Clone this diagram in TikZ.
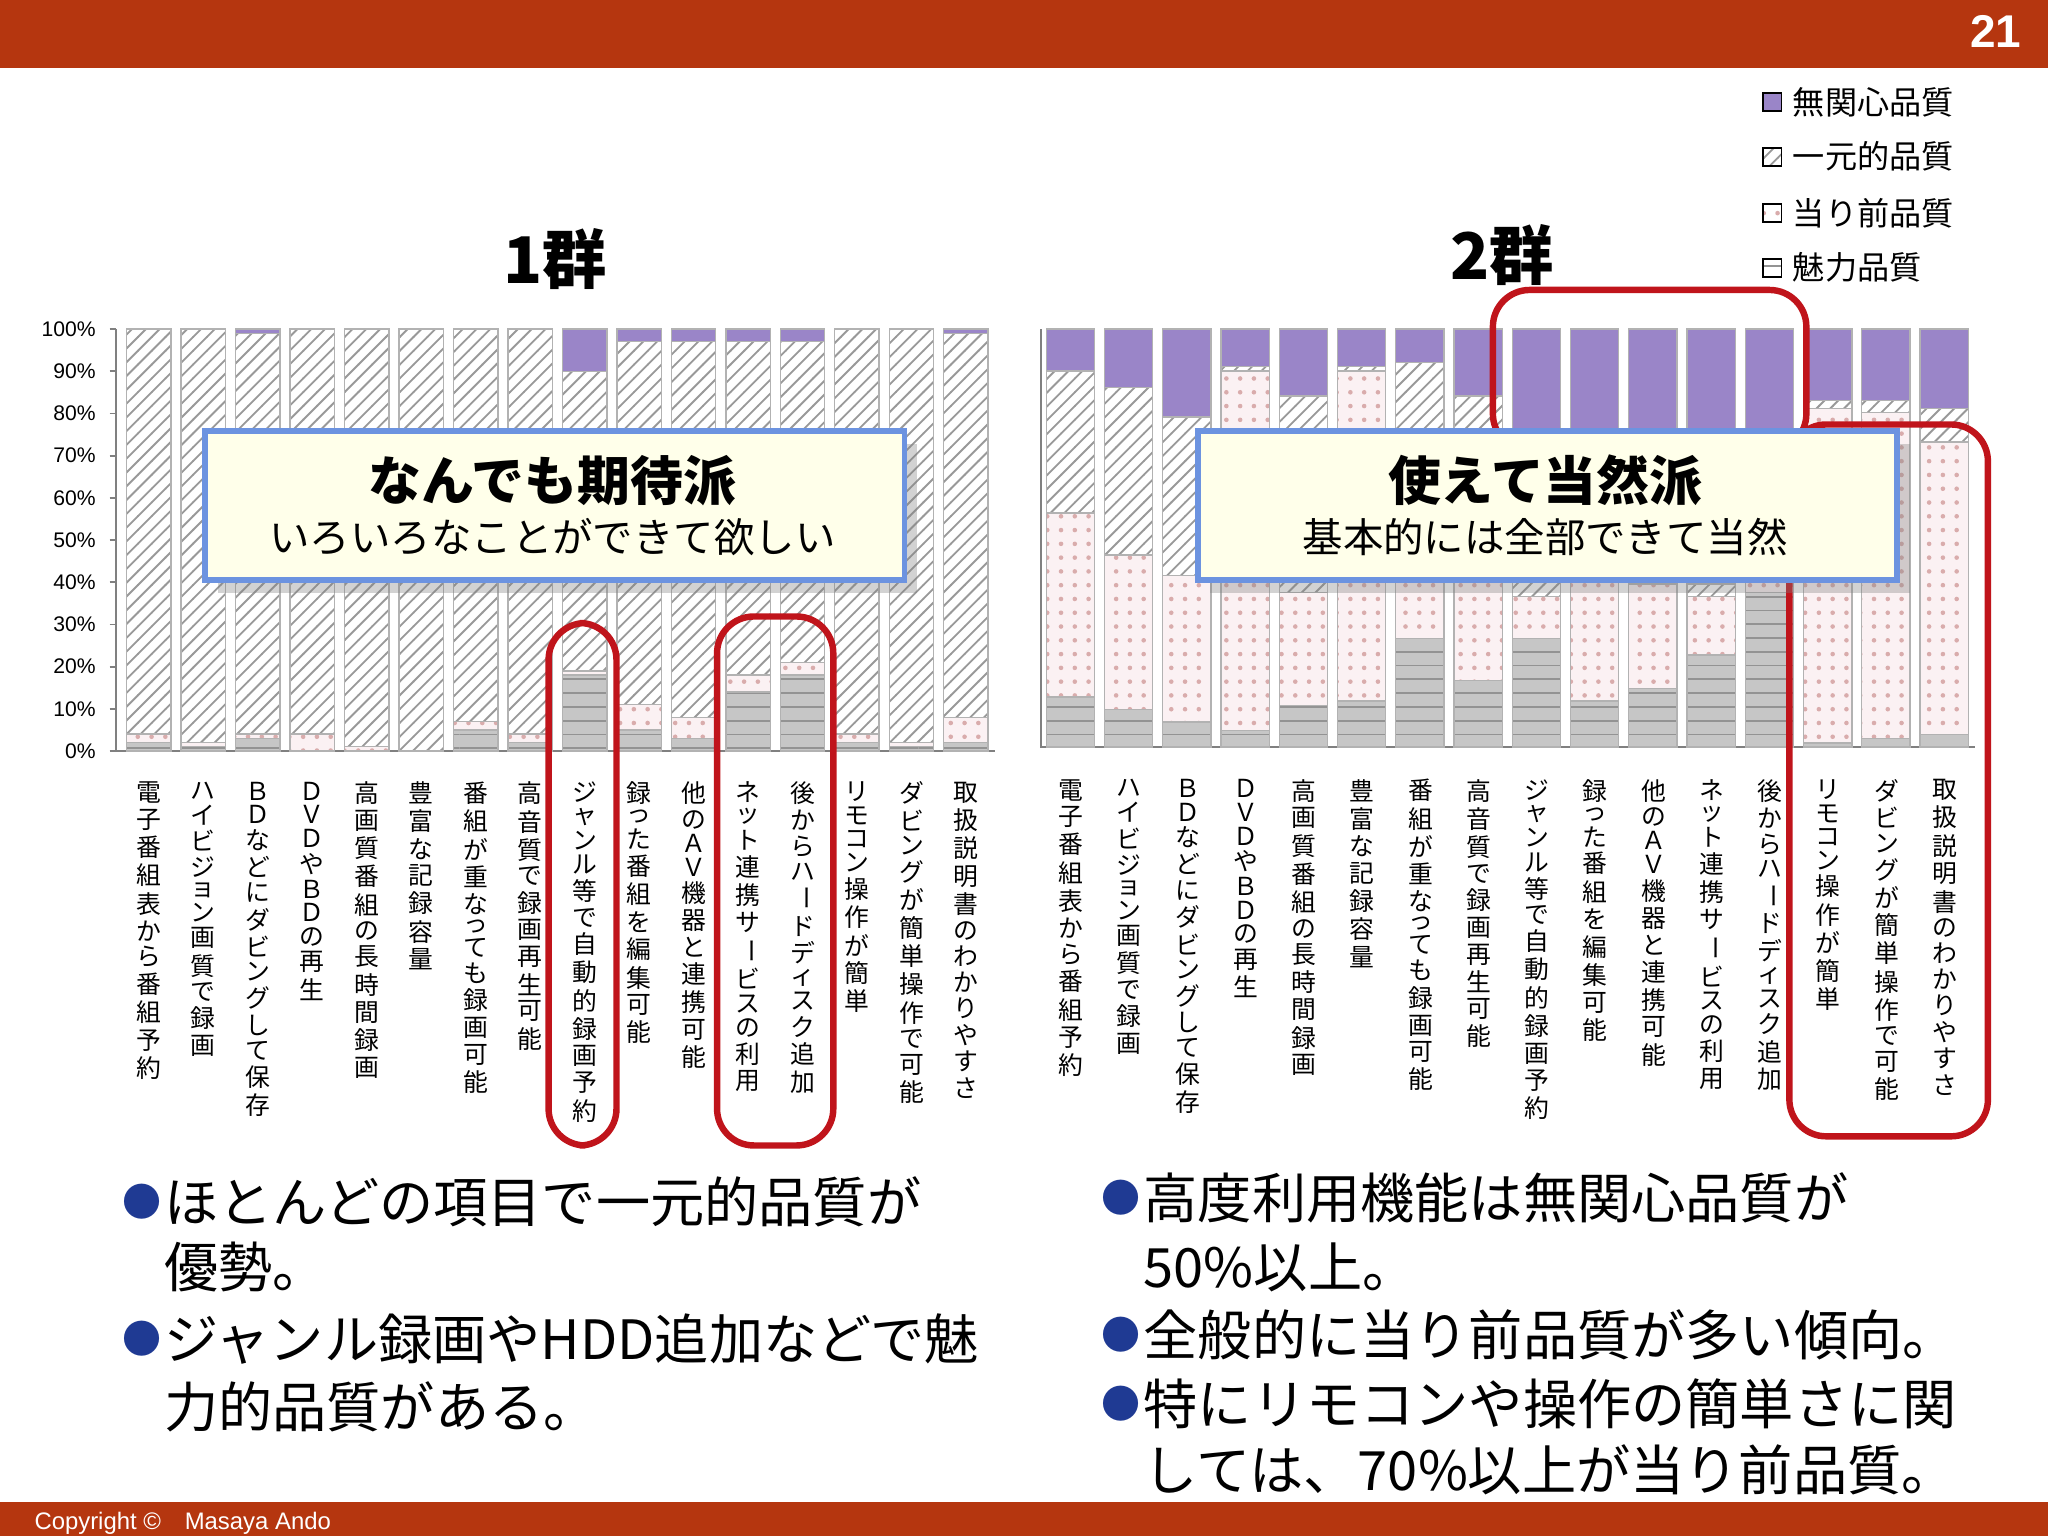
\documentclass[tikz,border=0pt]{standalone}
\usepackage{fontspec}
\setmainfont{Noto Sans CJK JP}
\newfontfamily\lib{Liberation Sans}
\usetikzlibrary{patterns,shadows}
\definecolor{hdr}{HTML}{B5360F}
\definecolor{purp}{HTML}{9A85C8}
\definecolor{pinkw}{HTML}{FBF1F3}
\definecolor{bblue}{HTML}{1F3A93}
\definecolor{boxy}{HTML}{FFFFEA}
\definecolor{boxb}{HTML}{6C93E0}
\definecolor{redb}{HTML}{C0141B}
\makeatletter
\def\chou{ー}
\newcommand\vlab[1]{\vbox{\offinterlineskip\@tfor\ch:=#1\do{\hbox to 1.1em{\hss\ifx\ch\chou\rotatebox{-90}{\ch}\else\ch\fi\hss}\kern1.2pt}}}
\makeatother
\tikzset{
 smi/.style={fill=gray!45},
 smil/.style={pattern=horizontal lines,pattern color=gray!85},
 sat/.style={fill=pinkw},
 satl/.style={pattern=dots,pattern color=pink!70!gray},
 sic/.style={fill=white},
 sicl/.style={pattern=north east lines,pattern color=gray!80},
 smu/.style={fill=purp},
 barframe/.style={draw=gray!60,line width=0.3pt},
 lab/.style={anchor=north,inner sep=0pt,font=\fontsize{5.4}{6}\selectfont},
 callout/.style={draw=boxb,line width=1.2pt,fill=boxy,drop shadow={opacity=0.35},minimum width=5.35cm,minimum height=1.14cm,anchor=north west,inner sep=0pt},
 redbox/.style={draw=redb,line width=1.4pt,rounded corners=8pt},
 bul/.style={anchor=west,inner sep=0pt,font=\fontsize{11.8}{13}\selectfont},
 bdot/.style={anchor=west,inner sep=0pt,text=bblue,font=\fontsize{8.5}{9}\selectfont},
 tick/.style={anchor=east,inner sep=0pt,font=\lib\fontsize{4.6}{5}\selectfont}
}
\begin{document}
\begin{tikzpicture}[x=0.01cm,y=-0.01cm]
\useasboundingbox (0,0) rectangle (1568,1176);
\fill[white] (0,0) rectangle (1568,1176);
% header/footer
\fill[hdr] (0,0) rectangle (1568,52);
\node[text=white,font=\lib\bfseries\fontsize{10}{10}\selectfont] (pg) at (1528,24) {21};
\fill[hdr] (0,1150) rectangle (1568,1176);
\node[text=white,anchor=west,font=\lib\fontsize{5.2}{6}\selectfont] (cp) at (14,1166) {Copyright ©\quad Masaya Ando};
% titles
\node[font=\bfseries\fontsize{14}{14}\selectfont] (t1) at (425,198) {1群};
\node[font=\bfseries\fontsize{14}{14}\selectfont] (t2) at (1150,195) {2群};
% legend
\foreach \s/\t/\yy [count=\j] in {smu/無関心品質/78,sicl/一元的品質/120,satl/当り前品質/163,smil/魅力品質/205}{
  \fill[white] (1350,\yy-7) rectangle (1364,\yy+7);
  \fill[\s] (1350,\yy-7) rectangle (1364,\yy+7);
  \draw[black,line width=0.4pt] (1350,\yy-7) rectangle (1364,\yy+7);
  \node[anchor=west,inner sep=0pt,font=\fontsize{7}{8}\selectfont] (lg\j) at (1372,\yy) {\t};
}
% chart 1
\foreach \v/\yy in {0/575,10/542.7,20/510.4,30/478.1,40/445.8,50/413.5,60/381.2,70/348.9,80/316.6,90/284.3,100/252}{
  \node[tick] (tk\v) at (74,\yy) {\v\%};
  \draw[gray,line width=0.4pt] (84,\yy) -- (89,\yy);
}
\draw[gray,line width=0.5pt] (89,252) -- (89,575) -- (762,575);
\foreach \m/\t/\k/\u [count=\i] in {2/2/96/0,1/1/98/0,3/1/95/1,0/4/96/0,0/1/99/0,0/0/100/0,5/2/93/0,2/2/96/0,18/1/71/10,5/6/86/3,3/5/89/3,14/4/79/3,18/3/76/3,2/2/96/0,1/1/98/0,2/6/91/1}{
  \pgfmathsetmacro\xa{93+41.7*(\i-1)+4}
  \pgfmathsetmacro\xb{\xa+34}
  \pgfmathsetmacro\ya{575-3.23*\m}
  \pgfmathsetmacro\yb{\ya-3.23*\t}
  \pgfmathsetmacro\yc{\yb-3.23*\k}
  \fill[smi] (\xa,575) rectangle (\xb,\ya); \fill[smil] (\xa,575) rectangle (\xb,\ya);
  \fill[sat] (\xa,\ya) rectangle (\xb,\yb); \fill[satl] (\xa,\ya) rectangle (\xb,\yb);
  \fill[sic] (\xa,\yb) rectangle (\xb,\yc); \fill[sicl] (\xa,\yb) rectangle (\xb,\yc);
  \fill[smu] (\xa,\yc) rectangle (\xb,252);
  \draw[barframe] (\xa,575) rectangle (\xb,252);
  \draw[barframe] (\xa,\ya)--(\xb,\ya) (\xa,\yb)--(\xb,\yb) (\xa,\yc)--(\xb,\yc);
}
% chart 2
\draw[gray,line width=0.5pt] (797,252) -- (797,572) -- (1512,572);
\foreach \m/\t/\k/\u [count=\i] in {12/44/34/10,9/37/40/14,6/35/38/21,4/86/1/9,10/27/47/16,11/79/1/9,26/40/26/8,16/50/18/16,26/10/4/60,11/30/5/54,14/25/5/56,22/14/3/61,37/5/3/55,1/80/2/17,2/78/3/17,3/70/8/19}{
  \pgfmathsetmacro\xa{797+44.6*(\i-1)+4}
  \pgfmathsetmacro\xb{\xa+37}
  \pgfmathsetmacro\ya{572-3.2*\m}
  \pgfmathsetmacro\yb{\ya-3.2*\t}
  \pgfmathsetmacro\yc{\yb-3.2*\k}
  \fill[smi] (\xa,572) rectangle (\xb,\ya); \fill[smil] (\xa,572) rectangle (\xb,\ya);
  \fill[sat] (\xa,\ya) rectangle (\xb,\yb); \fill[satl] (\xa,\ya) rectangle (\xb,\yb);
  \fill[sic] (\xa,\yb) rectangle (\xb,\yc); \fill[sicl] (\xa,\yb) rectangle (\xb,\yc);
  \fill[smu] (\xa,\yc) rectangle (\xb,252);
  \draw[barframe] (\xa,572) rectangle (\xb,252);
  \draw[barframe] (\xa,\ya)--(\xb,\ya) (\xa,\yb)--(\xb,\yb) (\xa,\yc)--(\xb,\yc);
}
% category labels
\foreach \L [count=\i] in {電子番組表から番組予約,ハイビジョン画質で録画,ＢＤなどにダビングして保存,ＤＶＤやＢＤの再生,高画質番組の長時間録画,豊富な記録容量,番組が重なっても録画可能,高音質で録画再生可能,ジャンル等で自動的録画予約,録った番組を編集可能,他のＡＶ機器と連携可能,ネット連携サービスの利用,後からハードディスク追加,リモコン操作が簡単,ダビングが簡単操作で可能,取扱説明書のわかりやすさ}{
  \node[lab] (la\i) at ({114+41.7*(\i-1)},598) {\expandafter\vlab\expandafter{\L}};
  \node[lab] (lb\i) at ({820+44.6*(\i-1)},596) {\expandafter\vlab\expandafter{\L}};
}
% red boxes
\draw[redbox] (420,477) rectangle (472,877);
\draw[redbox] (549,472) rectangle (638,877);
\draw[redbox] (1143,222) rectangle (1383,345);
\draw[redbox] (1370,325) rectangle (1522,870);
% callouts
\node[callout] (c1) at (155,328) {};
\node[font=\bfseries\fontsize{11.5}{12}\selectfont] (c1a) at (423,368) {なんでも期待派};
\node[font=\fontsize{8.8}{10}\selectfont] (c1b) at (423,411) {いろいろなことができて欲しい};
\node[callout] (c2) at (915,328) {};
\node[font=\bfseries\fontsize{11.5}{12}\selectfont] (c2a) at (1183,368) {使えて当然派};
\node[font=\fontsize{8.8}{10}\selectfont] (c2b) at (1183,411) {基本的には全部できて当然};
% bullets
\foreach \yy/\tx [count=\j] in {920/ほとんどの項目で一元的品質が,1025/ジャンル録画やHDD追加などで魅}{
  \node[bdot] (bl\j) at (93,\yy) {●};
  \node[bul] (tl\j) at (125,\yy) {\tx};
}
\node[bul] (tl3) at (125,970) {優勢。};
\node[bul] (tl4) at (125,1077) {力的品質がある。};
\foreach \yy/\tx [count=\j] in {917/高度利用機能は無関心品質が,1022/全般的に当り前品質が多い傾向。,1075/特にリモコンや操作の簡単さに関}{
  \node[bdot] (br\j) at (843,\yy) {●};
  \node[bul] (tr\j) at (875,\yy) {\tx};
}
\node[bul] (tr4) at (875,970) {50\%以上。};
\node[bul] (tr5) at (875,1125) {しては、70\%以上が当り前品質。};
\end{tikzpicture}
\end{document}
